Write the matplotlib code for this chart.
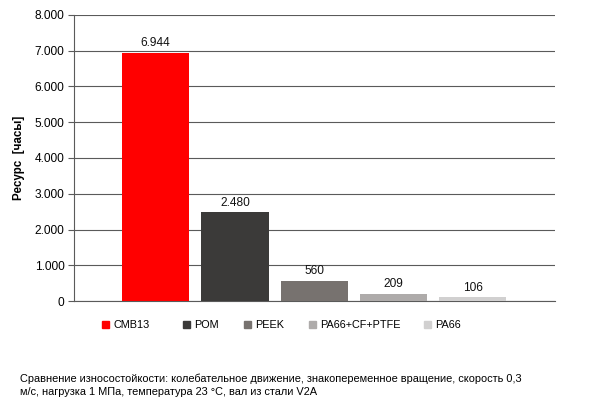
import matplotlib.pyplot as plt
import matplotlib.patches as patches
from matplotlib.ticker import FuncFormatter

plt.rcParams['font.family'] = ['Liberation Sans', 'DejaVu Sans']

# данные
materials = ['CMB13', 'POM', 'PEEK', 'PA66+CF+PTFE', 'PA66']
hours = [6944, 2480, 560, 209, 106]
colors = ['#ff0000', '#3b3a39', '#77726f', '#aeabaa', '#d1d0d0']
y_ticks = [0, 1000, 2000, 3000, 4000, 5000, 6000, 7000, 8000]
note = ('Сравнение износостойкости: колебательное движение, знакопеременное вращение, скорость 0,3\n'
        'м/с, нагрузка 1 МПа, температура 23 °С, вал из стали V2A')


def fmt(v, pos=None):
    return '{:,.0f}'.format(v).replace(',', '.')


fig = plt.figure(figsize=(5.97, 4.03), dpi=100)
ax = fig.add_axes([0.124, 0.253, 0.806, 0.710])

x = range(len(materials))
bars = ax.bar(x, hours, width=0.85, color=colors, zorder=3)
for b, v in zip(bars, hours):
    ax.text(b.get_x() + b.get_width() / 2, v + 100, fmt(v),
            ha='center', va='bottom', fontsize=8.6, color='#111111')

ax.set_xlim(-1.03, 5.04)
ax.set_ylim(0, 8000)
ax.set_yticks(y_ticks)
ax.yaxis.set_major_formatter(FuncFormatter(fmt))
ax.set_xticks([])
ax.grid(axis='y', color='#5a5a5a', linewidth=0.8, zorder=0)
ax.tick_params(axis='y', length=4, width=0.8, color='#5a5a5a',
               labelsize=8.6, pad=3)
for s in ['top', 'right']:
    ax.spines[s].set_visible(False)
for s in ['left', 'bottom']:
    ax.spines[s].set_color('#5a5a5a')
    ax.spines[s].set_linewidth(0.8)
ax.set_ylabel('Ресурс  [часы]', fontsize=8.4, fontweight='bold', labelpad=7)

# легенда вручную
legend_x = [0.171, 0.3065, 0.409, 0.5176, 0.710]
for lx, c, name in zip(legend_x, colors, materials):
    fig.add_artist(patches.Rectangle((lx, 0.1855), 0.0117, 0.0174,
                                     transform=fig.transFigure, color=c))
    fig.text(lx + 0.0185, 0.194, name, fontsize=7.8, va='center')

fig.text(0.034, 0.014, note, fontsize=7.9, linespacing=1.4, va='bottom')

fig.savefig('out.png', dpi=100)
